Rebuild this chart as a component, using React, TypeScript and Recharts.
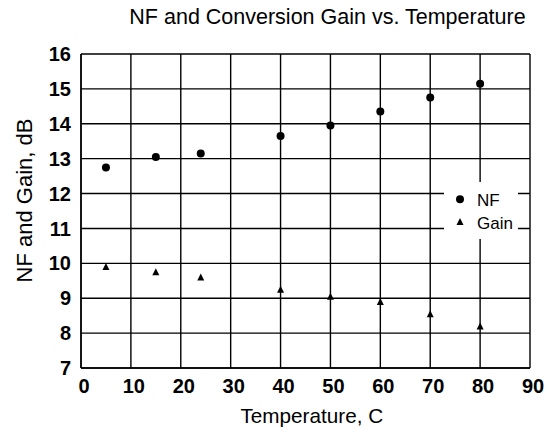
import React from 'react';
import { ScatterChart, Scatter, XAxis, YAxis, CartesianGrid, Legend } from 'recharts';

const temperatures = [5, 15, 24, 40, 50, 60, 70, 80];
const nfValues = [12.75, 13.05, 13.15, 13.65, 13.95, 14.35, 14.75, 15.15];
const gainValues = [9.9, 9.75, 9.6, 9.25, 9.05, 8.9, 8.55, 8.2];
const xTicks = [0, 10, 20, 30, 40, 50, 60, 70, 80, 90];
const yTicks = [7, 8, 9, 10, 11, 12, 13, 14, 15, 16];
const seriesNames = ['NF', 'Gain'];

const nfData = temperatures.map((t, i) => ({ t, v: nfValues[i] }));
const gainData = temperatures.map((t, i) => ({ t, v: gainValues[i] }));

const FONT = '"Liberation Sans", Arial, Helvetica, sans-serif';

const Dot = (props: any) => {
  const { cx, cy } = props;
  return <circle cx={cx} cy={cy} r={4} fill="#000" />;
};

const Tri = (props: any) => {
  const { cx, cy } = props;
  const s = 7;
  const h = 6.5;
  return (
    <polygon
      points={`${cx},${cy - h / 2 - 0.5} ${cx - s / 2},${cy + h / 2} ${cx + s / 2},${cy + h / 2}`}
      fill="#000"
    />
  );
};

const LegendBox = (props: any) => {
  const payload = [...(props.payload || [])].sort(
    (a: any, b: any) => seriesNames.indexOf(a.value) - seriesNames.indexOf(b.value)
  );
  return (
    <svg width={74} height={57} style={{ display: 'block', background: '#fff' }}>
      {payload.map((entry: any, i: number) => {
        const cy = i === 0 ? 17.3 : 39.7;
        const base = i === 0 ? 23.7 : 47;
        return (
          <g key={i}>
            {entry.value === 'NF' ? (
              <circle cx={16} cy={cy} r={4} fill="#000" />
            ) : (
              <polygon points={`16,${cy - 3.8} 12.5,${cy + 3.2} 19.5,${cy + 3.2}`} fill="#000" />
            )}
            <text x={33} y={base} fontSize={17} fontFamily={FONT} fill="#000">
              {entry.value}
            </text>
          </g>
        );
      })}
    </svg>
  );
};

export default function App() {
  return (
    <div style={{ position: 'absolute', left: 0, top: 0, width: 555, height: 429, background: '#fff' }}>
      <ScatterChart
        width={555}
        height={429}
        margin={{ top: 54, right: 25, bottom: 0, left: 0 }}
        style={{ fontFamily: FONT }}
      >
        <text x={327.5} y={24} textAnchor="middle" fontSize={21.5} fontFamily={FONT} fill="#000">
          NF and Conversion Gain vs. Temperature
        </text>
        <text
          x={32}
          y={200.5}
          textAnchor="middle"
          fontSize={22}
          fontFamily={FONT}
          fill="#000"
          transform="rotate(-90, 32, 200.5)"
        >
          NF and Gain, dB
        </text>
        <text x={311.8} y={423} textAnchor="middle" fontSize={20.7} fontFamily={FONT} fill="#000">
          Temperature, C
        </text>
        <CartesianGrid stroke="#000" strokeWidth={1.4} strokeOpacity={1} />
        <XAxis
          type="number"
          dataKey="t"
          domain={[0, 90]}
          ticks={xTicks}
          height={61}
          tickSize={0}
          tickMargin={11}
          axisLine={{ stroke: '#000', strokeWidth: 1.4 }}
          tick={{ fontSize: 20, fontWeight: 'bold', fill: '#000', fontFamily: FONT, dx: 3 }}
          interval={0}
        />
        <YAxis
          type="number"
          dataKey="v"
          domain={[7, 16]}
          ticks={yTicks}
          width={81}
          tickSize={0}
          tickMargin={10}
          axisLine={{ stroke: '#000', strokeWidth: 1.4 }}
          tick={{ fontSize: 20, fontWeight: 'bold', fill: '#000', fontFamily: FONT }}
          interval={0}
        />
        <Legend
          layout="vertical"
          align="center"
          verticalAlign="middle"
          content={<LegendBox />}
          wrapperStyle={{ left: 444, top: 182, width: 74, height: 57, background: '#fff' }}
        />
        <Scatter name="NF" data={nfData} shape={<Dot />} isAnimationActive={false} />
        <Scatter name="Gain" data={gainData} shape={<Tri />} isAnimationActive={false} />
      </ScatterChart>
    </div>
  );
}
